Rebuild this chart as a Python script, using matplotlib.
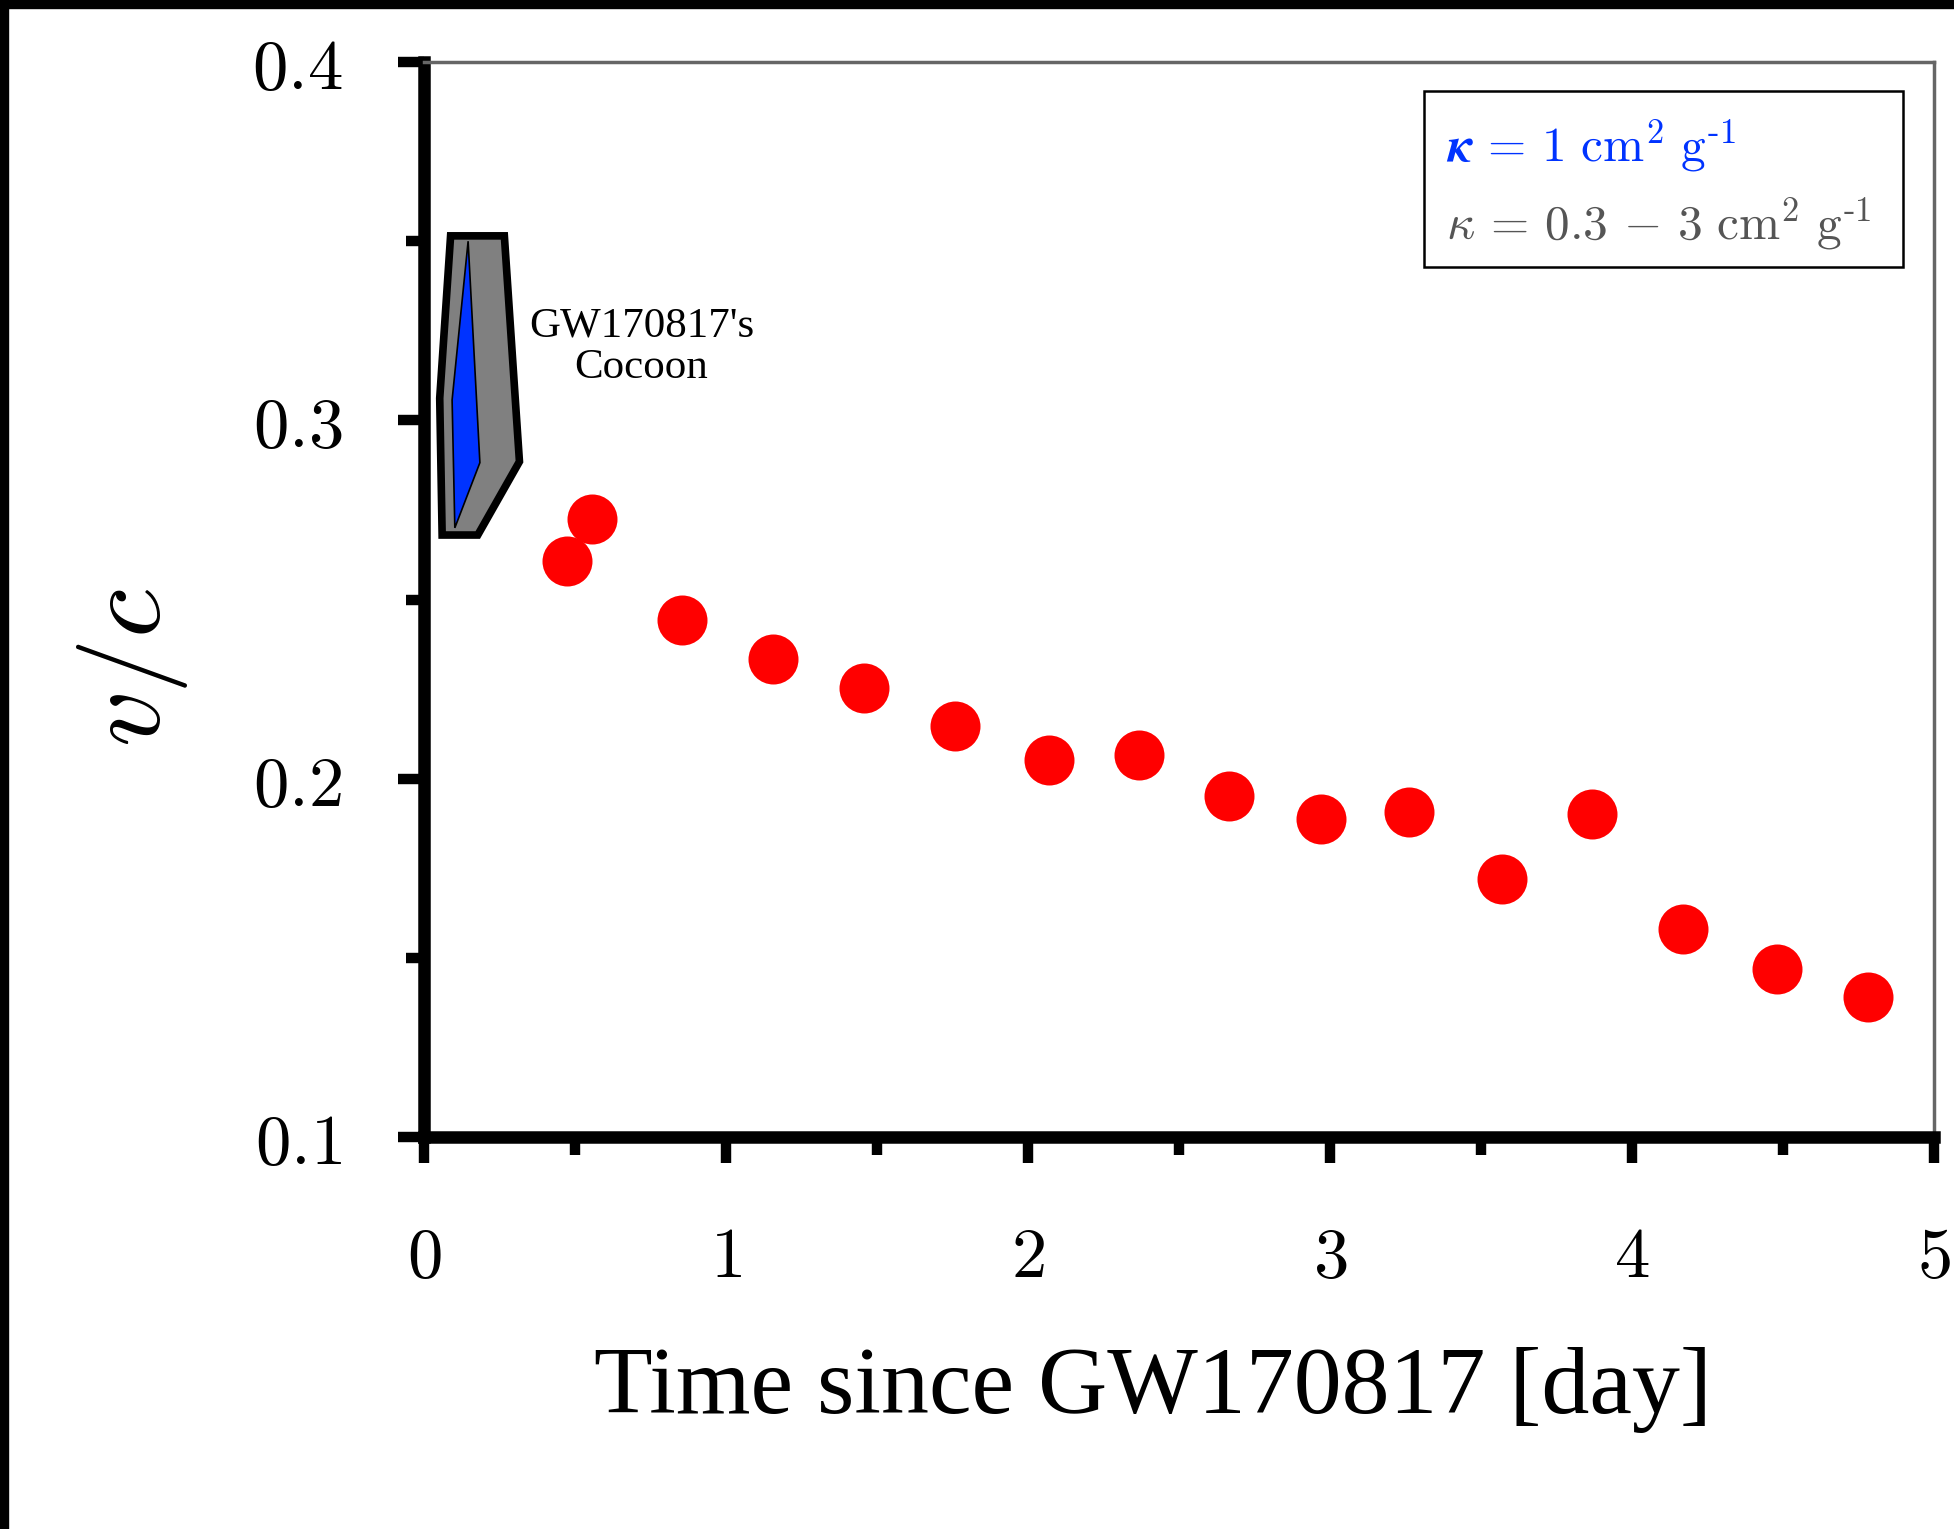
import numpy as np
import matplotlib
matplotlib.use('Agg')
import matplotlib.pyplot as plt
from matplotlib.patches import Polygon, Rectangle

plt.rcParams['mathtext.fontset'] = 'cm'

# Data
t_day = [0.475, 0.557, 0.855, 1.156, 1.457, 1.759, 2.068, 2.366, 2.667,
         2.969, 3.262, 3.571, 3.868, 4.170, 4.480, 4.781]
v_c = [0.2608, 0.2726, 0.2444, 0.2333, 0.2253, 0.2148, 0.2051, 0.2065,
       0.1953, 0.1887, 0.1908, 0.1720, 0.1901, 0.1581, 0.1470, 0.1390]
cocoon_grey_x = [0.088, 0.266, 0.316, 0.178, 0.060, 0.052]
cocoon_grey_y = [0.3515, 0.3515, 0.2885, 0.2680, 0.2680, 0.3062]
cocoon_blue_x = [0.146, 0.185, 0.102, 0.093]
cocoon_blue_y = [0.3500, 0.2882, 0.2700, 0.3057]
xticks = [0, 1, 2, 3, 4, 5]
yticks = [0.1, 0.2, 0.3, 0.4]

# Plotting
fig = plt.figure(figsize=[19.54, 15.29], dpi=100)
ax = fig.add_axes([0.217, 0.2564, 0.7728, 0.703])

ax.add_patch(Polygon(np.column_stack([cocoon_grey_x, cocoon_grey_y]),
                     closed=True, fc='#808080', ec='black', lw=5.5,
                     joinstyle='miter', zorder=3))
ax.add_patch(Polygon(np.column_stack([cocoon_blue_x, cocoon_blue_y]),
                     closed=True, fc='#0033ff', ec='black', lw=1.2,
                     zorder=4))
ax.plot(t_day, v_c, 'o', color='red', ms=36, mew=0, zorder=5)

ax.text(0.72, 0.3205, "GW170817's\nCocoon", fontsize=31,
        family='Liberation Serif', ha='center', va='center',
        linespacing=1.12)

ax.set_xlim(0, 5)
ax.set_ylim(0.1, 0.4)
ax.set_xticks(xticks, labels=[f'${v}$' for v in xticks])
ax.set_yticks(yticks, labels=[f'${v:.1f}$' for v in yticks])
ax.set_xticks(np.arange(0.5, 5, 1), minor=True)
ax.set_yticks([0.15, 0.25, 0.35], minor=True)
ax.tick_params(which='major', direction='out', length=19, width=7.5,
               labelsize=51)
ax.tick_params(which='minor', direction='out', length=13, width=7.5)
ax.tick_params(axis='x', which='major', pad=43)
ax.tick_params(axis='y', which='major', pad=40)

for s in ['left', 'bottom']:
    ax.spines[s].set_linewidth(9)
    ax.spines[s].set_color('black')
for s in ['top', 'right']:
    ax.spines[s].set_linewidth(2.5)
    ax.spines[s].set_color('#666666')

ax.text(0.483, -0.195, 'Time since GW170817 [day]', transform=ax.transAxes,
        fontsize=69, family='Liberation Serif', ha='center', va='top')
ax.text(-0.193, 0.437, r'$v/c$', transform=ax.transAxes, fontsize=80,
        rotation=90, ha='center', va='center')

# legend box
ax.add_patch(Rectangle((0.662, 0.809), 0.3175, 0.164,
                       transform=ax.transAxes, fill=False, ec='black',
                       lw=1.8, zorder=6))
ax.text(0.677, 0.907,
        r'$\boldsymbol{\kappa}\,=\,1\ \mathrm{cm}^2\ \mathrm{g}^{\text{-}1}$',
        transform=ax.transAxes, fontsize=35.5, color='#0033ff')
ax.text(0.677, 0.835,
        r'$\kappa\,=\,0.3\,-\,3\ \mathrm{cm}^2\ \mathrm{g}^{\text{-}1}$',
        transform=ax.transAxes, fontsize=35.5, color='#555555')

# frame strips at top and left of the picture
fig.patches.append(Rectangle((0, 1 - 8 / 1529), 1, 8 / 1529,
                             transform=fig.transFigure, color='black'))
fig.patches.append(Rectangle((0, 0), 8 / 1954, 1,
                             transform=fig.transFigure, color='black'))

plt.savefig('out.png', dpi=100)
plt.close(fig)
